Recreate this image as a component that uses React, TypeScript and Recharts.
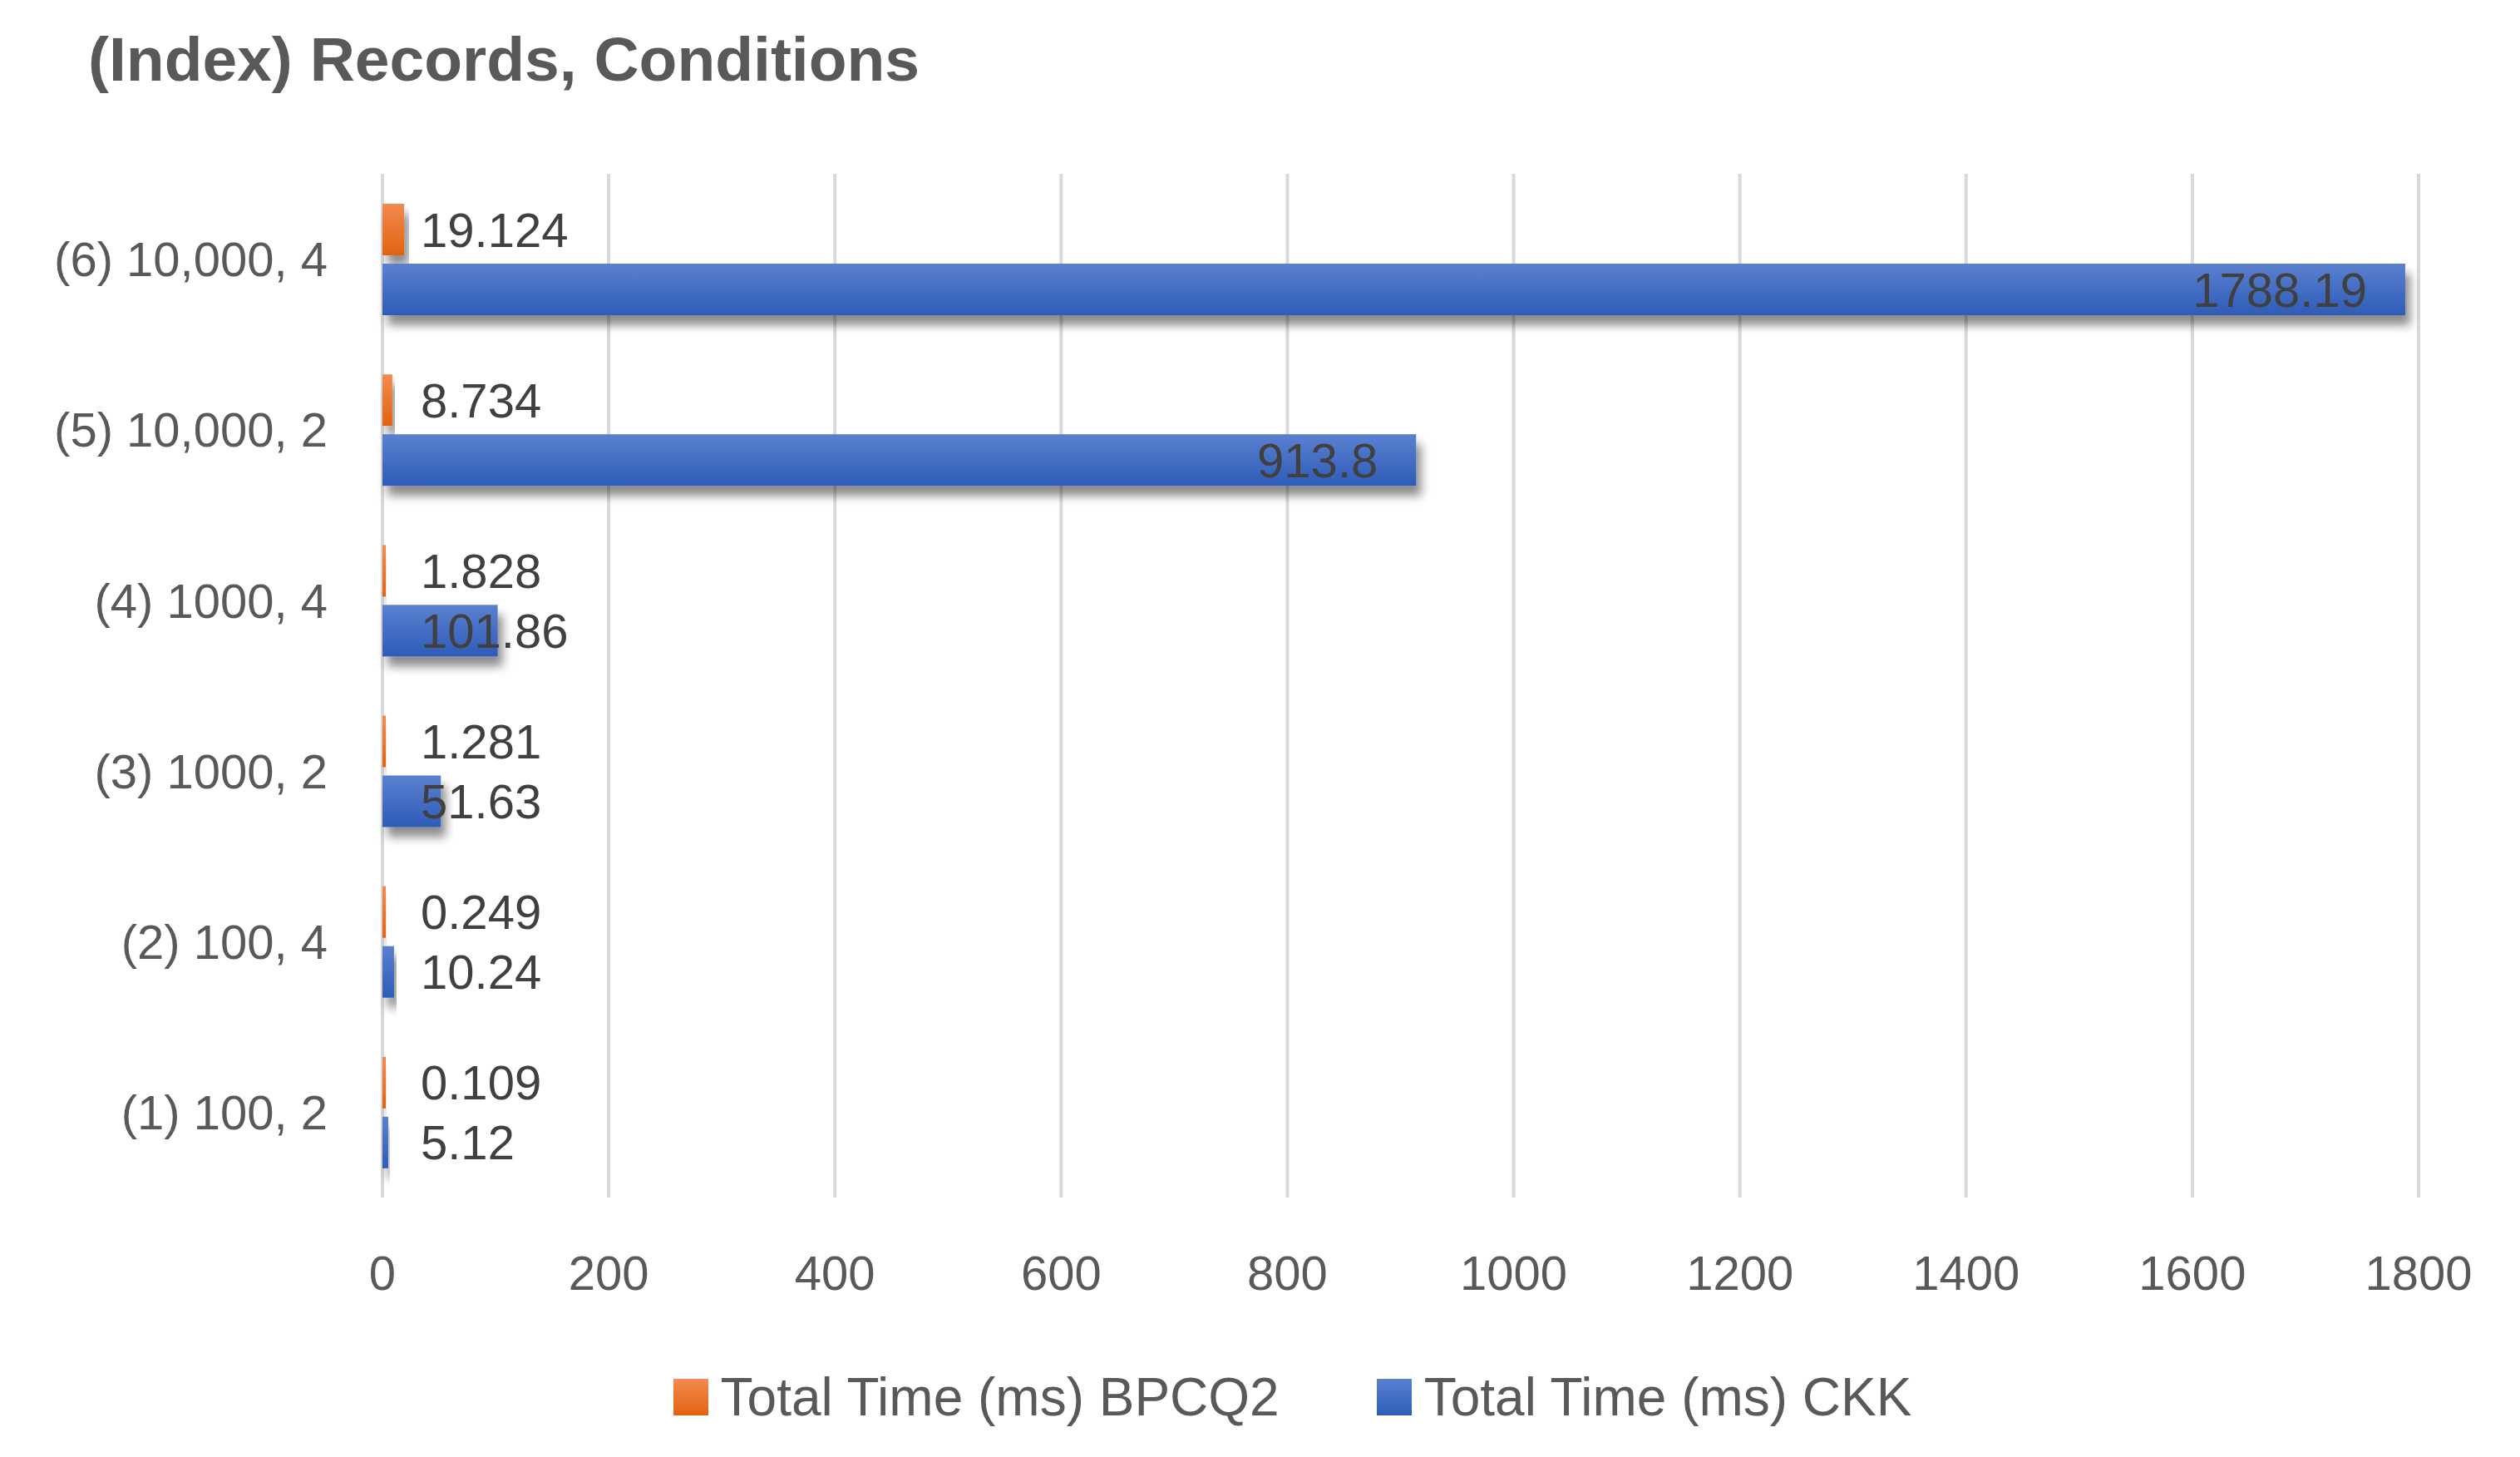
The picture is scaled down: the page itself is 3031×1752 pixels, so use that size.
import React from 'react';
import { BarChart, Bar, XAxis, YAxis, CartesianGrid, LabelList, Legend } from 'recharts';

const categories = ['(1) 100, 2', '(2) 100, 4', '(3) 1000, 2', '(4) 1000, 4', '(5) 10,000, 2', '(6) 10,000, 4'];
const bpcq2 = [0.109, 0.249, 1.281, 1.828, 8.734, 19.124];
const ckk = [5.12, 10.24, 51.63, 101.86, 913.8, 1788.19];
const xTicks = [0, 200, 400, 600, 800, 1000, 1200, 1400, 1600, 1800];
const seriesNames = ['Total Time (ms) BPCQ2', 'Total Time (ms) CKK'];
const title = '(Index) Records, Conditions';

const data = categories.map((c, i) => ({ cat: c, bpcq2: bpcq2[i], ckk: ckk[i] }));

const FONT = '"Liberation Sans", Arial, sans-serif';
const FS = 58;

const makeLabel = (allowInside: boolean) => (props: any) => {
  const { x, y, width, height, value } = props;
  const pad = 46;
  const text = String(value);
  const tw = text.length * 0.556 * FS;
  const cy = y + height / 2;
  if (allowInside && width - pad > tw + pad * 2) {
    return (
      <text x={x + width - pad} y={cy} dy="0.355em" textAnchor="end" fontSize={FS} fontFamily={FONT} fill="#404040">
        {text}
      </text>
    );
  }
  return (
    <text x={x + pad} y={cy} dy="0.355em" textAnchor="start" fontSize={FS} fontFamily={FONT} fill="#404040">
      {text}
    </text>
  );
};

const BarShape = (fillId: string) => (props: any) => {
  const { x, y, width, height } = props;
  if (width <= 0 || height <= 0) return null;
  return <rect x={x} y={y} width={width} height={height} fill={`url(#${fillId})`} filter="url(#barShadow)" />;
};

const LegendContent = (props: any) => {
  const { payload } = props;
  return (
    <div
      style={{
        height: 192,
        boxSizing: 'border-box',
        paddingTop: 98,
        paddingLeft: 200,
        display: 'flex',
        justifyContent: 'center',
        alignItems: 'flex-start',
        fontFamily: FONT,
        fontSize: 64,
        color: '#595959',
      }}
    >
      {(payload || []).map((p: any, i: number) => (
        <div key={i} style={{ display: 'flex', alignItems: 'center', marginRight: i === 0 ? 117 : 0, height: 44 }}>
          <svg width={42} height={44} style={{ marginRight: 15, display: 'block' }}>
            <rect x={0} y={0} width={42} height={44} fill={i === 0 ? 'url(#gradOrange)' : 'url(#gradBlue)'} />
          </svg>
          <span style={{ lineHeight: '44px', whiteSpace: 'nowrap' }}>{p.value}</span>
        </div>
      ))}
    </div>
  );
};

export default function App() {
  return (
    <div style={{ position: 'absolute', left: 0, top: 0, width: 3031, height: 1752, background: '#fff' }}>
      <svg width={0} height={0} style={{ position: 'absolute' }}>
        <defs>
          <linearGradient id="gradBlue" x1="0" y1="0" x2="0" y2="1">
            <stop offset="0%" stopColor="#5b80cf" />
            <stop offset="100%" stopColor="#2d5cb8" />
          </linearGradient>
          <linearGradient id="gradOrange" x1="0" y1="0" x2="0" y2="1">
            <stop offset="0%" stopColor="#f28b50" />
            <stop offset="100%" stopColor="#e2620f" />
          </linearGradient>
          <filter id="barShadow" x="-20%" y="-30%" width="140%" height="180%">
            <feDropShadow dx="6" dy="12" stdDeviation="6" floodColor="#000" floodOpacity="0.45" />
          </filter>
        </defs>
      </svg>
      <div
        style={{
          position: 'absolute',
          left: 106,
          top: 34,
          fontFamily: FONT,
          fontWeight: 'bold',
          fontSize: 75,
          lineHeight: '75px',
          color: '#595959',
          whiteSpace: 'nowrap',
        }}
      >
        {title}
      </div>
      <BarChart
        width={3031}
        height={1752}
        data={data}
        layout="vertical"
        margin={{ top: 209, right: 122, bottom: 0, left: 0 }}
        barSize={62}
        barGap={10}
      >
        <CartesianGrid horizontal={false} vertical stroke="#d9d9d9" strokeWidth={4} />
        <XAxis
          type="number"
          domain={[0, 1800]}
          ticks={xTicks}
          axisLine={false}
          tickLine={false}
          tickMargin={64}
          height={120}
          tick={{ fontSize: FS, fontFamily: FONT, fill: '#595959' }}
          interval={0}
        />
        <YAxis
          type="category"
          dataKey="cat"
          reversed
          width={460}
          axisLine={false}
          tickLine={false}
          tickMargin={60}
          tick={{ fontSize: FS, fontFamily: FONT, fill: '#595959' }}
          interval={0}
        />
        <Legend verticalAlign="bottom" content={<LegendContent />} />
        <Bar
          dataKey="bpcq2"
          name={seriesNames[0]}
          fill="#ED7D31"
          minPointSize={4}
          isAnimationActive={false}
          shape={BarShape('gradOrange')}
        >
          <LabelList dataKey="bpcq2" content={makeLabel(false)} />
        </Bar>
        <Bar
          dataKey="ckk"
          name={seriesNames[1]}
          fill="#4472C4"
          minPointSize={4}
          isAnimationActive={false}
          shape={BarShape('gradBlue')}
        >
          <LabelList dataKey="ckk" content={makeLabel(true)} />
        </Bar>
      </BarChart>
    </div>
  );
}
